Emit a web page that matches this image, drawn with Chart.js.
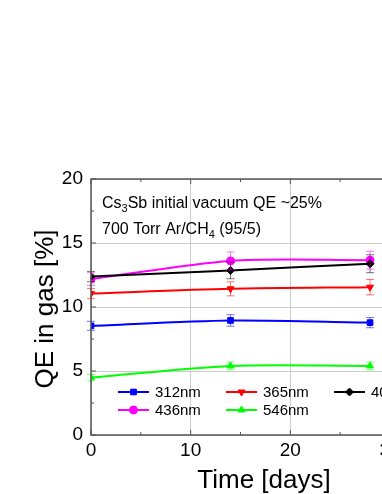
<!DOCTYPE html>
<html lang="en">
<head>
<meta charset="UTF-8">
<title>QE in gas</title>
<script src="https://cdn.jsdelivr.net/npm/chart.js"></script>
<style>
  html, body { margin: 0; padding: 0; background: #ffffff; overflow: hidden; }
  #wrap { width: 420px; height: 494px; }
</style>
</head>
<body>
<div id="wrap"><canvas id="qeChart" width="420" height="494"></canvas></div>
<script>
// data
const days = [0, 14, 28];
const seriesLabels = ['312nm', '365nm', '405nm', '436nm', '546nm'];
const qe312 = [8.53, 8.95, 8.78];
const qe365 = [11.05, 11.42, 11.55];
const qe405 = [12.38, 12.86, 13.38];
const qe436 = [12.18, 13.6, 13.66];
const qe546 = [4.48, 5.4, 5.4];
const err312 = [0.35, 0.45, 0.4];
const err365 = [0.4, 0.55, 0.6];
const err405 = [0.4, 0.65, 0.7];
const err436 = [0.5, 0.7, 0.7];
const err546 = [0.25, 0.3, 0.3];
const xTicks = [0, 10, 20, 30];
const yTicks = [0, 5, 10, 15, 20];

const FONT = "'Liberation Sans', Arial, sans-serif";

function pts(vals) {
    return vals.map((v, i) => ({ x: days[i], y: v }));
}

function makeSet(idx, vals, errs, color, style, rot) {
    return {
        label: seriesLabels[idx],
        data: pts(vals),
        errors: errs,
        borderColor: color,
        backgroundColor: color,
        borderWidth: 2,
        pointStyle: style,
        pointRotation: rot,
        pointRadius: 4,
        pointBorderWidth: 1,
        tension: 0.3
    };
}

// error bars, drawn in a lighter tint of the series colour
const errorBars = {
    id: 'errorBars',
    afterDatasetsDraw(chart) {
        const ctx = chart.ctx;
        const ys = chart.scales.y, xs = chart.scales.x;
        ctx.save();
        ctx.globalAlpha = 0.55;
        ctx.lineWidth = 1;
        chart.data.datasets.forEach(ds => {
            ctx.strokeStyle = ds.borderColor;
            ds.data.forEach((p, i) => {
                const e = ds.errors[i];
                const px = xs.getPixelForValue(p.x);
                const y1 = ys.getPixelForValue(p.y - e);
                const y2 = ys.getPixelForValue(p.y + e);
                ctx.beginPath();
                ctx.moveTo(px, y1); ctx.lineTo(px, y2);
                ctx.moveTo(px - 4, y1); ctx.lineTo(px + 4, y1);
                ctx.moveTo(px - 4, y2); ctx.lineTo(px + 4, y2);
                ctx.stroke();
            });
        });
        ctx.restore();
    }
};

function drawMarker(ctx, ds, x, y) {
    const opts = { pointStyle: ds.pointStyle, rotation: ds.pointRotation, radius: 4, borderWidth: 1 };
    ctx.fillStyle = ds.backgroundColor;
    ctx.strokeStyle = ds.borderColor;
    ctx.lineWidth = 1;
    Chart.helpers.drawPoint(ctx, opts, x, y);
}

const decor = {
    id: 'decor',
    afterDraw(chart) {
        const ctx = chart.ctx;
        const a = chart.chartArea;
        const xs = chart.scales.x, ys = chart.scales.y;
        ctx.save();

        // frame
        ctx.strokeStyle = '#555555';
        ctx.lineWidth = 1.5;
        ctx.strokeRect(a.left, a.top, a.right - a.left, a.bottom - a.top);

        // inward ticks, major + minor
        ctx.lineWidth = 1;
        ctx.beginPath();
        for (let v = 0; v <= 30; v += 5) {
            const len = v % 10 === 0 ? 5 : 3;
            const px = xs.getPixelForValue(v);
            ctx.moveTo(px, a.bottom); ctx.lineTo(px, a.bottom - len);
            ctx.moveTo(px, a.top); ctx.lineTo(px, a.top + len);
        }
        for (let v = 0; v <= 20; v += 2.5) {
            const len = v % 5 === 0 ? 5 : 3;
            const py = ys.getPixelForValue(v);
            ctx.moveTo(a.left, py); ctx.lineTo(a.left + len, py);
            ctx.moveTo(a.right, py); ctx.lineTo(a.right - len, py);
        }
        ctx.stroke();

        // annotation
        ctx.fillStyle = '#000';
        ctx.textBaseline = 'alphabetic';
        ctx.textAlign = 'left';
        let x = 102;
        const put = (t, size, dy) => {
            ctx.font = size + 'px ' + FONT;
            ctx.fillText(t, x, dy);
            x += ctx.measureText(t).width;
        };
        put('Cs', 16, 208); put('3', 11, 212); put('Sb initial vacuum QE ~25%', 16, 208);
        x = 102;
        put('700 Torr Ar/CH', 16, 234); put('4', 11, 238); put(' (95/5)', 16, 234);

        // legend (3 columns, 2 rows)
        const cols = [118, 226, 334];
        const rows = [392, 410];
        ctx.font = '15px ' + FONT;
        ctx.textBaseline = 'middle';
        chart.data.datasets.forEach((ds, i) => {
            const lx = cols[i % 3], ly = rows[Math.floor(i / 3)];
            ctx.strokeStyle = ds.borderColor;
            ctx.lineWidth = 2;
            ctx.beginPath();
            ctx.moveTo(lx, ly); ctx.lineTo(lx + 31, ly);
            ctx.stroke();
            drawMarker(ctx, ds, lx + 15.5, ly);
            ctx.fillStyle = '#000';
            ctx.fillText(ds.label, lx + 37, ly + 1);
        });

        // axis titles
        ctx.fillStyle = '#000';
        ctx.font = '26px ' + FONT;
        ctx.textAlign = 'center';
        ctx.textBaseline = 'alphabetic';
        ctx.fillText('Time [days]', 264, 488);
        ctx.translate(53, 309);
        ctx.rotate(-Math.PI / 2);
        ctx.fillText('QE in gas [%]', 0, 0);
        ctx.restore();
    }
};

new Chart(document.getElementById('qeChart'), {
    type: 'line',
    data: {
        datasets: [
            makeSet(0, qe312, err312, '#0000ff', 'rect', 0),
            makeSet(1, qe365, err365, '#ff0000', 'triangle', 180),
            makeSet(2, qe405, err405, '#000000', 'rectRot', 0),
            makeSet(3, qe436, err436, '#ff00ff', 'circle', 0),
            makeSet(4, qe546, err546, '#00ff00', 'triangle', 0)
        ]
    },
    options: {
        responsive: false,
        animation: false,
        layout: { padding: { top: 179, right: 30, left: 0, bottom: 0 } },
        plugins: { legend: { display: false }, tooltip: { enabled: false } },
        scales: {
            x: {
                type: 'linear',
                min: 0, max: 30,
                afterBuildTicks: s => { s.ticks = xTicks.map(v => ({ value: v })); },
                afterFit: s => { s.height = 59; },
                ticks: { color: '#000', font: { size: 19, family: FONT }, padding: 4 },
                grid: { color: '#cccccc', lineWidth: 1, drawTicks: false },
                border: { display: false }
            },
            y: {
                min: 0, max: 20,
                afterBuildTicks: s => { s.ticks = yTicks.map(v => ({ value: v })); },
                afterFit: s => { s.width = 91; },
                ticks: { color: '#000', font: { size: 19, family: FONT }, padding: 8 },
                grid: { color: '#cccccc', lineWidth: 1, drawTicks: false },
                border: { display: false }
            }
        }
    },
    plugins: [errorBars, decor]
});
</script>
</body>
</html>
